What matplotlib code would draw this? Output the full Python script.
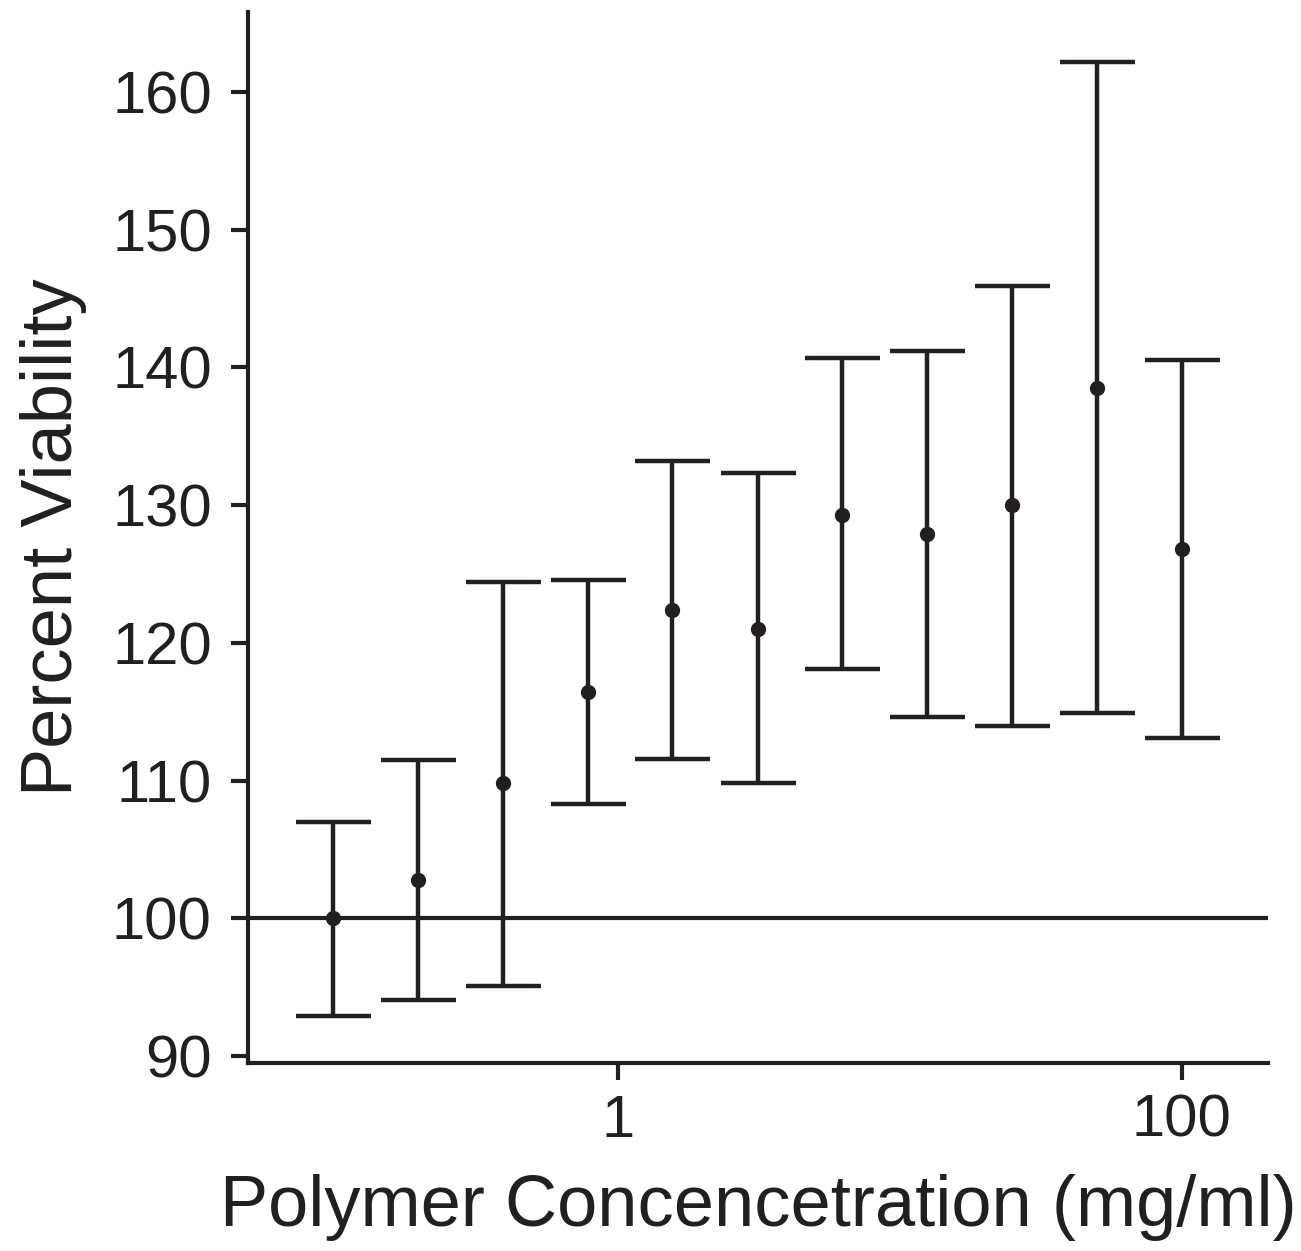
import matplotlib.pyplot as plt
import numpy as np

# data
conc = [0.0977, 0.195, 0.39, 0.78, 1.56, 3.13, 6.25, 12.5, 25, 50, 100]
viability = [100.0, 102.8, 109.8, 116.4, 122.4, 121.0, 129.3, 127.9, 130.0, 138.5, 126.8]
upper = [107.0, 111.5, 124.4, 124.6, 133.2, 132.3, 140.7, 141.2, 145.9, 162.2, 140.5]
lower = [92.9, 94.1, 95.1, 108.3, 111.6, 109.8, 118.1, 114.6, 114.0, 114.9, 113.1]

x_ticks = [1, 100]
x_ticklabels = ["1", "100"]
y_ticks = [90, 100, 110, 120, 130, 140, 150, 160]

ink = "#231f20"
plt.rcParams['font.family'] = ['Liberation Sans', 'DejaVu Sans']

fig = plt.figure(figsize=(13.01, 12.51), dpi=100)
ax = fig.add_axes([0.1906, 0.1503, 0.784, 0.8401])

v = np.array(viability)
yerr = [v - np.array(lower), np.array(upper) - v]

ax.axhline(100, color=ink, lw=3, zorder=1)
ax.errorbar(conc, viability, yerr=yerr, fmt='o', color=ink, ms=10,
            elinewidth=3.2, capsize=27, capthick=3.2, zorder=3)

ax.set_xscale('log')
ax.set_xlim(0.0487, 202)
ax.set_ylim(89.5, 165.8)
ax.set_xticks(x_ticks)
ax.set_xticklabels(x_ticklabels)
ax.xaxis.set_minor_locator(plt.NullLocator())
ax.set_yticks(y_ticks)

for side in ['top', 'right']:
    ax.spines[side].set_visible(False)
for side in ['left', 'bottom']:
    ax.spines[side].set_color(ink)
    ax.spines[side].set_linewidth(3)

ax.tick_params(axis='both', length=12, width=3, color=ink, labelsize=43, labelcolor=ink)
ax.tick_params(axis='y', pad=14)
ax.tick_params(axis='x', pad=10)

ax.set_xlabel("Polymer Concencetration (mg/ml)", fontsize=52, color=ink, labelpad=18)
ax.set_ylabel("Percent Viability", fontsize=52, color=ink, labelpad=18)

fig.savefig("out.png", dpi=100)
